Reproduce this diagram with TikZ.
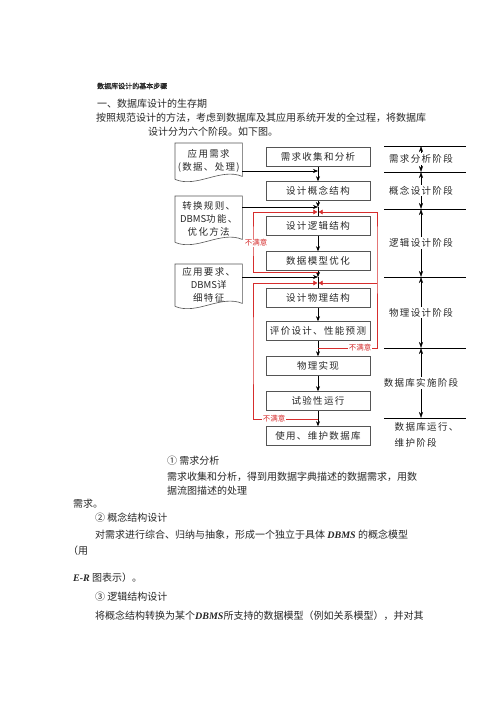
\documentclass[tikz,border=0pt]{standalone}
\usepackage{fontspec}
\setmainfont{Noto Sans CJK SC}
\newfontfamily\boxfont[LetterSpace=14]{Noto Sans CJK SC}
\newfontfamily\plainfont{Noto Sans CJK SC}
\newfontfamily\headfont[FakeBold=1.5]{Noto Sans CJK SC}
\newfontfamily\romanfont{Liberation Serif}
\newcommand\bitext[1]{{\romanfont\bfseries\itshape #1}}
\newcommand\dbms{{\plainfont DBMS}}
\usetikzlibrary{arrows.meta, positioning, calc}
\definecolor{fbred}{RGB}{214,45,45}
\definecolor{edgegray}{RGB}{85,85,85}
\definecolor{textgray}{RGB}{40,40,40}
\newcommand\docoutline[1]{%
  \draw[docline] (#1.south west) -- (#1.north west) -- (#1.north east)
    -- ([yshift=3pt]#1.south east)
    .. controls ([xshift=-22pt,yshift=12pt]#1.south east) and ([xshift=22pt,yshift=-9pt]#1.south west)
    .. (#1.south west);}

\begin{document}
\begin{tikzpicture}[x=1pt, y=-1pt,
    every node/.style={inner sep=0pt, text=textgray},
    txt/.style={anchor=west, font=\fontsize{10}{12}\selectfont},
    stepbox/.style={draw=edgegray, line width=0.6pt, fill=white, minimum width=104pt, minimum height=19pt, font=\boxfont\fontsize{9.5}{10}\selectfont},
    docbox/.style={anchor=north west, minimum width=67pt, align=center, font=\boxfont\fontsize{9.5}{13}\selectfont},
    docline/.style={draw=edgegray, line width=0.6pt},
    stage/.style={fill=white, inner sep=1.5pt, font=\boxfont\fontsize{9.5}{16}\selectfont},
    flow/.style={-{Stealth[length=5pt,width=4pt]}, line width=0.5pt},
    back/.style={-{Triangle[length=4pt,width=4.5pt]}, draw=fbred, line width=0.6pt, shorten >=0.6pt},
    unhappy/.style={fill=white, inner sep=1pt, text=fbred, font=\fontsize{7.5}{9}\selectfont},
    span/.style={{Stealth[length=6pt,width=4pt]}-{Stealth[length=6pt,width=4pt]}, line width=0.5pt}]
  \fill[white] (0,0) rectangle (500,707);
  \useasboundingbox (0,0) rectangle (500,707);

  \node[txt, font=\headfont\fontsize{7}{8}\selectfont] (t0) at (97,86) {数据库设计的基本步骤};
  \node[txt] (t1) at (97,104) {一、数据库设计的生存期};
  \node[txt] (t2) at (96,118) {按照规范设计的方法，考虑到数据库及其应用系统开发的全过程，将数据库};
  \node[txt] (t3) at (148,132) {设计分为六个阶段。如下图。};

  \node[stepbox] (s1) at (318,157) {需求收集和分析};
  \node[stepbox] (s2) at (318,191) {设计概念结构};
  \node[stepbox] (s3) at (318,226) {设计逻辑结构};
  \node[stepbox] (s4) at (318,261) {数据模型优化};
  \node[stepbox] (s5) at (318,298) {设计物理结构};
  \node[stepbox] (s6) at (318,331) {评价设计、性能预测};
  \node[stepbox] (s7) at (318,366) {物理实现};
  \node[stepbox] (s8) at (318,401) {试验性运行};
  \node[stepbox] (s9) at (318,436) {使用、维护数据库};

  \node[docbox, minimum height=36pt] (d1) at (175,143) {应用需求\\(数据、处理)};
  \node[docbox, minimum height=46pt] (d2) at (175,196) {转换规则、\\\dbms 功能、\\优化方法};
  \node[docbox, minimum height=42pt] (d3) at (175,264) {应用要求、\\\dbms 详\\细特征};
  \docoutline{d1}
  \docoutline{d2}
  \docoutline{d3}

  \coordinate (j1) at (318,171);
  \coordinate (j2) at (318,207);
  \coordinate (r2) at (318,212);
  \coordinate (k4) at (318,272);
  \coordinate (j3) at (318,277);
  \coordinate (r3) at (318,283);
  \coordinate (k6) at (318,348);
  \coordinate (k8) at (318,419);
  \coordinate (rc) at (377,283);

  \draw[flow] (s1) -- (s2);
  \draw[flow] (d1.east |- j1) -- (j1);
  \draw[flow] (s2) -- (j2);
  \draw (j2) -- (s3);
  \draw[flow] (d2.east |- j2) -- (j2);
  \draw[flow] (s3) -- (s4);
  \draw[flow] (s4) -- (j3);
  \draw (j3) -- (s5);
  \draw[flow] (d3.east |- j3) -- (j3);
  \draw[flow] (s5) -- (s6);
  \draw[flow] (s6) -- (s7);
  \draw[flow] (s7) -- (s8);
  \draw[flow] (s8) -- (s9);

  \draw[back] (k4) -| (253,240) |- (r2);
  \draw[back] (k6) -| (377,240) |- (r2);
  \draw[back] (rc) -- (r3);
  \draw[back] (k8) -| (253,350) |- (r3);
  \node[unhappy] (n1) at (256,243) {不满意};
  \node[unhappy] (n2) at (360,348) {不满意};
  \node[unhappy] (n3) at (274,419) {不满意};

  \foreach \y in {146,172,209,277,348,418}
    \draw[line width=0.5pt] (384,\y) -- (466,\y);
  \coordinate (b0) at (421,146);
  \coordinate (b1) at (421,172);
  \coordinate (b2) at (421,209);
  \coordinate (b3) at (421,277);
  \coordinate (b4) at (421,348);
  \coordinate (b5) at (421,418);
  \draw[span] (b0) -- node[stage] (g1) {需求分析阶段} (b1);
  \draw[span] (b1) -- node[stage] (g2) {概念设计阶段} (b2);
  \draw[span] (b2) -- node[stage] (g3) {逻辑设计阶段} (b3);
  \draw[span] (b3) -- node[stage] (g4) {物理设计阶段} (b4);
  \draw[span] (b4) -- node[stage] (g5) {数据库实施阶段} (b5);
  \node[stage, fill=none, anchor=west, align=left] (g6) at (393,435) {数据库运行、\\维护阶段};

  \node[txt] (t4) at (167,461) {① 需求分析};
  \node[txt] (t5) at (167,477) {需求收集和分析，得到用数据字典描述的数据需求，用数};
  \node[txt] (t6) at (167,491) {据流图描述的处理};
  \node[txt] (t7) at (73,504) {需求。};
  \node[txt] (t8) at (95,518) {② 概念结构设计};
  \node[txt] (t9) at (95,535) {对需求进行综合、归纳与抽象，形成一个独立于具体 \bitext{DBMS} 的概念模型};
  \node[txt] (t10) at (68,551) {（用};
  \node[txt] (t11) at (73,578) {\bitext{E-R} 图表示）。};
  \node[txt] (t12) at (95,597) {③ 逻辑结构设计};
  \node[txt] (t13) at (95,616) {将概念结构转换为某个\bitext{DBMS}所支持的数据模型（例如关系模型），并对其};
\end{tikzpicture}
\end{document}
